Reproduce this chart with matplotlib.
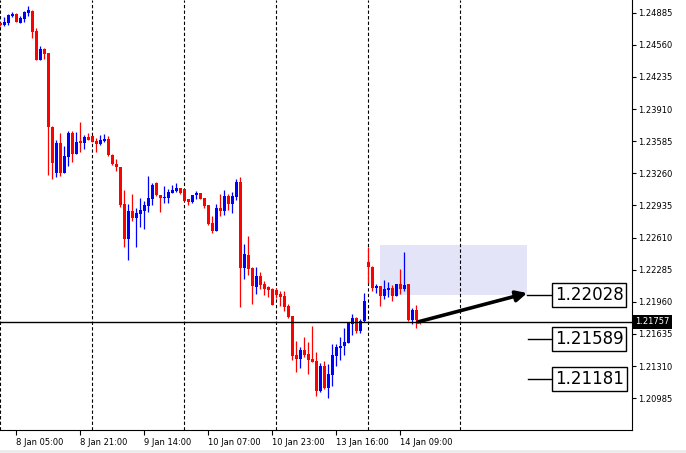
import matplotlib.pyplot as plt
from matplotlib.patches import Rectangle
import numpy as np

# hourly candles (bar index 0..105)
opens = [1.24783, 1.24760, 1.24777, 1.24851, 1.24874, 1.24783, 1.24824, 1.24885, 1.24905, 1.24700,
         1.24409, 1.24517, 1.24477, 1.23731, 1.23266, 1.23564, 1.23266, 1.23428, 1.23668, 1.23458,
         1.23590, 1.23570, 1.23630, 1.23640, 1.23590, 1.23556, 1.23590, 1.23607, 1.23445, 1.23351,
         1.23324, 1.22950, 1.22592, 1.22879, 1.22811, 1.22851, 1.22882, 1.22929, 1.23003, 1.23159,
         1.23038, 1.23013, 1.23013, 1.23064, 1.23081, 1.23111, 1.23101, 1.22997, 1.22970, 1.23038,
         1.23061, 1.23007, 1.22939, 1.22754, 1.22679, 1.22909, 1.22882, 1.23031, 1.22953, 1.23023,
         1.23169, 1.22305, 1.22434, 1.22305, 1.22113, 1.22221, 1.22140, 1.22107, 1.22093, 1.22080,
         1.22039, 1.22019, 1.21921, 1.21817, 1.21419, 1.21385, 1.21473, 1.21435, 1.21382, 1.21361,
         1.21058, 1.21311, 1.21091, 1.21220, 1.21412, 1.21496, 1.21510, 1.21547, 1.21736, 1.21797,
         1.21668, 1.21763, 1.22363, 1.22312, 1.22103, 1.22120, 1.22022, 1.22080, 1.22100, 1.22022,
         1.22141, 1.22093, 1.22141, 1.21776, 1.21877, 1.21770]
highs = [1.24791, 1.24841, 1.24871, 1.24892, 1.24878, 1.24854, 1.24902, 1.24952, 1.24912, 1.24730,
         1.24548, 1.24528, 1.24480, 1.23739, 1.23597, 1.23668, 1.23539, 1.23688, 1.23688, 1.23678,
         1.23779, 1.23651, 1.23665, 1.23642, 1.23617, 1.23651, 1.23655, 1.23637, 1.23455, 1.23405,
         1.23326, 1.23091, 1.22950, 1.23051, 1.22912, 1.23007, 1.22983, 1.23233, 1.23159, 1.23172,
         1.23040, 1.23132, 1.23101, 1.23142, 1.23162, 1.23113, 1.23103, 1.23003, 1.23040, 1.23078,
         1.23064, 1.23010, 1.22942, 1.22828, 1.22950, 1.23051, 1.23091, 1.23051, 1.23071, 1.23202,
         1.23226, 1.22545, 1.22626, 1.22315, 1.22312, 1.22259, 1.22170, 1.22120, 1.22096, 1.22097,
         1.22073, 1.22073, 1.21938, 1.21820, 1.21564, 1.21503, 1.21607, 1.21554, 1.21719, 1.21452,
         1.21341, 1.21361, 1.21328, 1.21533, 1.21533, 1.21607, 1.21698, 1.21750, 1.21837, 1.21804,
         1.21783, 1.22049, 1.22518, 1.22322, 1.22141, 1.22123, 1.22181, 1.22161, 1.22130, 1.22144,
         1.22292, 1.22464, 1.22144, 1.21898, 1.21928, 1.21780]
lows = [1.24750, 1.24755, 1.24760, 1.24844, 1.24790, 1.24780, 1.24794, 1.24854, 1.24632, 1.24405,
        1.24405, 1.24419, 1.23246, 1.23205, 1.23226, 1.23236, 1.23262, 1.23337, 1.23377, 1.23455,
        1.23479, 1.23509, 1.23595, 1.23578, 1.23479, 1.23549, 1.23580, 1.23435, 1.23344, 1.23286,
        1.22922, 1.22518, 1.22386, 1.22778, 1.22518, 1.22720, 1.22694, 1.22872, 1.22939, 1.23031,
        1.22872, 1.22963, 1.22963, 1.23058, 1.23071, 1.23055, 1.22980, 1.22939, 1.22960, 1.23003,
        1.23000, 1.22912, 1.22737, 1.22659, 1.22676, 1.22831, 1.22838, 1.22889, 1.22862, 1.22990,
        1.21911, 1.22194, 1.22228, 1.21941, 1.22042, 1.22087, 1.22032, 1.22012, 1.21928, 1.21996,
        1.21918, 1.21870, 1.21800, 1.21372, 1.21253, 1.21294, 1.21405, 1.21227, 1.21348, 1.21011,
        1.21051, 1.21075, 1.20990, 1.21112, 1.21314, 1.21372, 1.21422, 1.21544, 1.21628, 1.21642,
        1.21648, 1.21760, 1.22148, 1.22073, 1.22046, 1.21921, 1.21992, 1.22012, 1.21971, 1.22019,
        1.22042, 1.22073, 1.21769, 1.21739, 1.21699, 1.21740]
closes = [1.24757, 1.24791, 1.24861, 1.24874, 1.24794, 1.24834, 1.24892, 1.24915, 1.24692, 1.24409,
          1.24517, 1.24470, 1.23731, 1.23367, 1.23564, 1.23266, 1.23438, 1.23668, 1.23458, 1.23577,
          1.23564, 1.23630, 1.23597, 1.23580, 1.23556, 1.23597, 1.23607, 1.23445, 1.23351, 1.23321,
          1.22939, 1.22592, 1.22879, 1.22811, 1.22855, 1.22889, 1.22943, 1.23007, 1.23142, 1.23038,
          1.23013, 1.23023, 1.23071, 1.23091, 1.23111, 1.23058, 1.22983, 1.22970, 1.23038, 1.23061,
          1.23003, 1.22929, 1.22747, 1.22679, 1.22906, 1.22882, 1.23031, 1.22953, 1.23031, 1.23169,
          1.22305, 1.22441, 1.22295, 1.22123, 1.22221, 1.22133, 1.22093, 1.22083, 1.21931, 1.22029,
          1.22012, 1.21911, 1.21810, 1.21415, 1.21385, 1.21473, 1.21419, 1.21372, 1.21351, 1.21058,
          1.21311, 1.21085, 1.21227, 1.21422, 1.21506, 1.21516, 1.21554, 1.21746, 1.21797, 1.21668,
          1.21763, 1.21967, 1.22312, 1.22103, 1.22120, 1.22022, 1.22090, 1.22100, 1.22022, 1.22141,
          1.22093, 1.22130, 1.21776, 1.21877, 1.21776, 1.21757]

time_ticks = [4, 20, 36, 52, 68, 84, 100]
time_labels = ['8 Jan 05:00', '8 Jan 21:00', '9 Jan 14:00', '10 Jan 07:00',
               '10 Jan 23:00', '13 Jan 16:00', '14 Jan 09:00']
price_ticks = [1.20985, 1.21310, 1.21635, 1.21960, 1.22285, 1.22610, 1.22935,
               1.23260, 1.23585, 1.23910, 1.24235, 1.24560, 1.24885]
bid = 1.21757
zone_low, zone_high = 1.22028, 1.22535
levels = [1.22028, 1.21589, 1.21181]

o = np.array(opens); h = np.array(highs); l = np.array(lows); c = np.array(closes)
x = np.arange(len(o))
colors = np.where(c > o, '#0000ff', '#ff0000')

fig = plt.figure(figsize=(6.86, 4.53), dpi=100)
ax = fig.add_axes([0, 23 / 453, 632 / 686, 430 / 453])

# supply/demand zone behind the candles
ax.add_patch(Rectangle((94.9, zone_low), 131.7 - 94.9, zone_high - zone_low,
                       facecolor='#e4e4f8', edgecolor='none', zorder=0))

# vertical dashed grid every 23 bars (only over the price history)
for gx in range(0, 116, 23):
    ax.axvline(gx, color='black', ls=(0, (3, 2)), lw=0.8, zorder=1)

# candles
ax.vlines(x, l, h, colors=colors, lw=0.9, zorder=2)
body = np.maximum(np.abs(c - o), 0.00009)
ax.bar(x, body, bottom=np.minimum(o, c), width=0.75, color=colors, linewidth=0, zorder=3)

# current price line
ax.axhline(bid, color='black', lw=1, zorder=4)

# arrow from last candle to target level
ax.annotate('', xy=(131.7, 1.22049), xytext=(104.4, bid),
            arrowprops=dict(arrowstyle='-|>', color='black', lw=2.6,
                            mutation_scale=16, shrinkA=0, shrinkB=0), zorder=5)

# level labels
for lv, x0 in zip(levels, [131.7, 131.9, 131.9]):
    ax.plot([x0, 137.7], [lv, lv], color='black', lw=1, zorder=4)
    ax.text(147.2, lv, f'{lv:.5f}', fontsize=12, ha='center', va='center', zorder=6,
            bbox=dict(boxstyle='square,pad=0.18', facecolor='white', edgecolor='black', lw=1))

ax.set_xlim(-0.075, 157.925)
ax.set_ylim(1.20664, 1.25013)

ax.spines['top'].set_visible(False)
ax.spines['left'].set_visible(False)
ax.spines['right'].set_linewidth(0.8)
ax.spines['bottom'].set_linewidth(0.8)

ax.yaxis.tick_right()
ax.set_yticks(price_ticks)
ax.set_yticklabels([f'{p:.5f}' for p in price_ticks])
ax.tick_params(axis='y', direction='out', length=3, width=0.8, pad=1.5, labelsize=6)
ax.set_xticks(time_ticks)
ax.set_xticklabels(time_labels, ha='left')
ax.tick_params(axis='x', direction='out', length=3.5, width=0.8, pad=2, labelsize=6)

# highlighted bid label on the price scale
ax.text(1.005, bid, f'{bid:.5f}', transform=ax.get_yaxis_transform(), fontsize=6,
        color='white', ha='left', va='center', clip_on=False,
        bbox=dict(boxstyle='square,pad=0.25', facecolor='black', edgecolor='none'))

fig.patches.append(Rectangle((0, 0), 1, 3 / 453, transform=fig.transFigure,
                             facecolor='#ececec', edgecolor='none'))

fig.savefig('out.png', dpi=100)
